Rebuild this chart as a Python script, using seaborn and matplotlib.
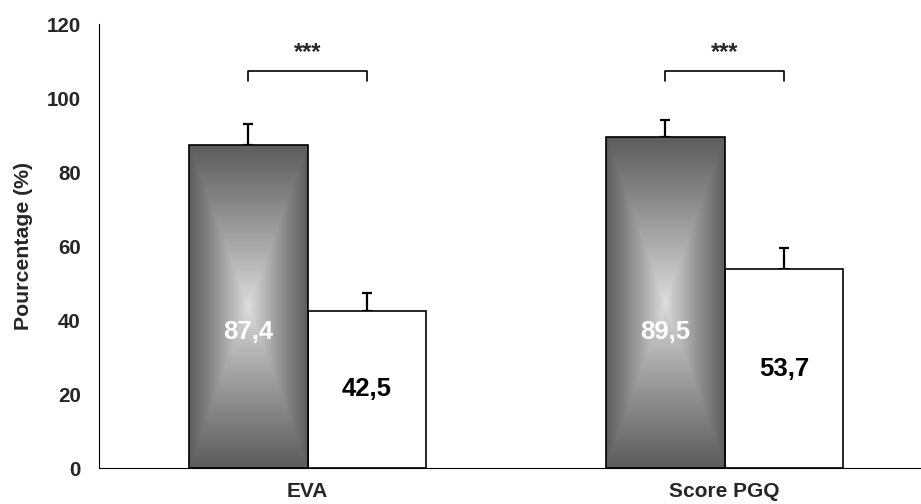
import numpy as np
import pandas as pd
import seaborn as sns
import matplotlib.pyplot as plt
from matplotlib.colors import LinearSegmentedColormap

categories = ["EVA", "Score PGQ"]
groups = ["groupe 1", "groupe 2"]
valeurs_g1 = [87.4, 89.5]
valeurs_g2 = [42.5, 53.7]
erreurs_g1 = [5.5, 4.6]
erreurs_g2 = [4.9, 5.8]
labels_g1 = ["87,4", "89,5"]
labels_g2 = ["42,5", "53,7"]

df = pd.DataFrame({
    "categorie": categories * 2,
    "groupe": [groups[0]] * 2 + [groups[1]] * 2,
    "valeur": valeurs_g1 + valeurs_g2,
})

sns.set_style("white")
plt.rcParams["font.family"] = ["Liberation Sans", "DejaVu Sans"]

fig = plt.figure(figsize=(9.21, 5.04), dpi=100)
ax = fig.add_axes([99 / 921, 36 / 504, 834 / 921, 444 / 504])

sns.barplot(data=df, x="categorie", y="valeur", hue="groupe", order=categories,
            hue_order=groups, palette=["#808080", "white"], width=0.57,
            edgecolor="black", linewidth=1.2, legend=False, ax=ax, zorder=2)

# degrade "rectangulaire" sur les barres grises
cmap = LinearSegmentedColormap.from_list("gris", ["#dedede", "#5c5c5c"])
yy, xx = np.mgrid[-1:1:200j, -1:1:200j]
grad = np.maximum(np.abs(xx), np.abs(yy)) ** 0.9
for bar in ax.containers[0]:
    x0, y0 = bar.get_x(), bar.get_y()
    w, h = bar.get_width(), bar.get_height()
    im = ax.imshow(grad, cmap=cmap, extent=[x0, x0 + w, y0, y0 + h],
                   aspect="auto", origin="lower", zorder=2.5)
    im.set_clip_path(bar)
    bar.set_facecolor("none")
    bar.set_zorder(3)

for cont, vals, errs, labs, col in [
        (ax.containers[0], valeurs_g1, erreurs_g1, labels_g1, "white"),
        (ax.containers[1], valeurs_g2, erreurs_g2, labels_g2, "black")]:
    for bar, v, e, lab in zip(cont, vals, errs, labs):
        cx = bar.get_x() + bar.get_width() / 2
        ax.errorbar(cx, v, yerr=[[0], [e]], fmt="none", ecolor="black",
                    elinewidth=1.6, capsize=3.5, capthick=1.6, zorder=1)
        ty = 36.8 if col == "white" else v / 2
        ax.text(cx, ty, lab, color=col, fontsize=18.5, fontweight="bold",
                ha="center", va="center", zorder=4)

# crochets de significativite
for i in range(2):
    b1 = ax.containers[0][i]
    b2 = ax.containers[1][i]
    x1 = b1.get_x() + b1.get_width() / 2
    x2 = b2.get_x() + b2.get_width() / 2
    ax.plot([x1, x1, x2, x2], [104.5, 107.2, 107.2, 104.5], color="black", lw=1.2)
    ax.text((x1 + x2) / 2, 112.3, "***", ha="center", va="center",
            fontsize=17, fontweight="bold")

ax.set_xlim(-0.5, 1.5)
ax.set_ylim(0, 120)
ax.set_yticks(range(0, 121, 20))
ax.set_xticks([0.5], minor=True)
ax.tick_params(axis="x", which="major", length=0, pad=10, labelsize=15)
ax.tick_params(axis="x", which="minor", length=5, width=1, direction="out", color="black")
ax.tick_params(axis="y", length=5, width=1, direction="out", color="black",
               labelsize=14.8, pad=8)
for lab in ax.get_xticklabels() + ax.get_yticklabels():
    lab.set_fontweight("bold")
ax.set_xlabel("")
ax.set_ylabel("Pourcentage (%)", fontsize=15.3, fontweight="bold", labelpad=10)
sns.despine(ax=ax)
ax.spines["left"].set_color("black")
ax.spines["bottom"].set_color("black")

fig.savefig("out.png", dpi=100)
